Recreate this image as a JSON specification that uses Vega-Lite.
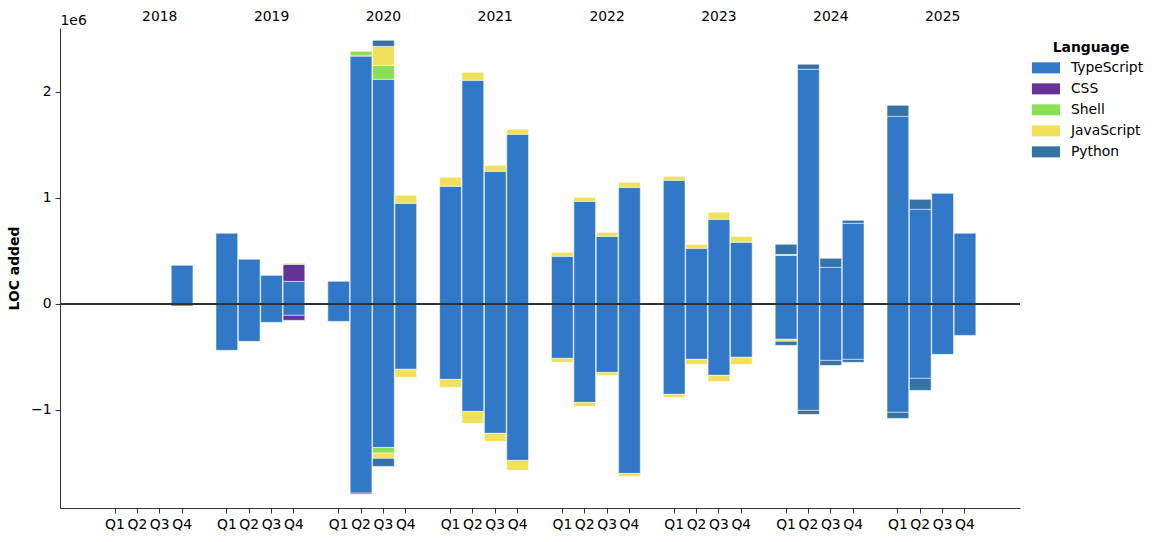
{
  "$schema": "https://vega.github.io/schema/vega-lite/v6.json",
  "width": 960,
  "height": 480,
  "autosize": {"type": "none"},
  "padding": {"left": 60, "top": 28, "right": 139, "bottom": 34},
  "background": "white",
  "config": {
    "view": {"stroke": null},
    "font": "DejaVu Sans",
    "axis": {
      "grid": false,
      "domainColor": "#000",
      "domainWidth": 0.8,
      "tickColor": "#000",
      "tickWidth": 0.8,
      "tickSize": 5,
      "labelColor": "#000",
      "labelFont": "DejaVu Sans",
      "labelFontSize": 13.9,
      "labelFontWeight": "normal",
      "labelPadding": 4,
      "titleFont": "DejaVu Sans",
      "titleColor": "#000"
    },
    "legend": {
      "labelFont": "DejaVu Sans",
      "titleFont": "DejaVu Sans"
    }
  },
  "data": {
    "values": [
      {"q": "2018 Q4", "lang": "TypeScript", "loc": 362000},
      {"q": "2018 Q4", "lang": "TypeScript", "loc": -22000},
      {"q": "2019 Q1", "lang": "TypeScript", "loc": 664000},
      {"q": "2019 Q1", "lang": "TypeScript", "loc": -440000},
      {"q": "2019 Q2", "lang": "TypeScript", "loc": 418000},
      {"q": "2019 Q2", "lang": "TypeScript", "loc": -355000},
      {"q": "2019 Q3", "lang": "TypeScript", "loc": 267000},
      {"q": "2019 Q3", "lang": "TypeScript", "loc": -176000},
      {"q": "2019 Q4", "lang": "TypeScript", "loc": 210000},
      {"q": "2019 Q4", "lang": "CSS", "loc": 161000},
      {"q": "2019 Q4", "lang": "Shell", "loc": 9000},
      {"q": "2019 Q4", "lang": "TypeScript", "loc": -110000},
      {"q": "2019 Q4", "lang": "CSS", "loc": -47000},
      {"q": "2020 Q1", "lang": "TypeScript", "loc": 211000},
      {"q": "2020 Q1", "lang": "TypeScript", "loc": -167000},
      {"q": "2020 Q2", "lang": "TypeScript", "loc": 2333000},
      {"q": "2020 Q2", "lang": "CSS", "loc": 9000},
      {"q": "2020 Q2", "lang": "Shell", "loc": 38000},
      {"q": "2020 Q2", "lang": "TypeScript", "loc": -1787000},
      {"q": "2020 Q2", "lang": "CSS", "loc": -9000},
      {"q": "2020 Q3", "lang": "TypeScript", "loc": 2116000},
      {"q": "2020 Q3", "lang": "Shell", "loc": 132000},
      {"q": "2020 Q3", "lang": "JavaScript", "loc": 179000},
      {"q": "2020 Q3", "lang": "Python", "loc": 57000},
      {"q": "2020 Q3", "lang": "TypeScript", "loc": -1356000},
      {"q": "2020 Q3", "lang": "Shell", "loc": -53000},
      {"q": "2020 Q3", "lang": "JavaScript", "loc": -50000},
      {"q": "2020 Q3", "lang": "Python", "loc": -76000},
      {"q": "2020 Q4", "lang": "TypeScript", "loc": 947000},
      {"q": "2020 Q4", "lang": "JavaScript", "loc": 75000},
      {"q": "2020 Q4", "lang": "TypeScript", "loc": -619000},
      {"q": "2020 Q4", "lang": "JavaScript", "loc": -76000},
      {"q": "2021 Q1", "lang": "TypeScript", "loc": 1107000},
      {"q": "2021 Q1", "lang": "JavaScript", "loc": 85000},
      {"q": "2021 Q1", "lang": "TypeScript", "loc": -714000},
      {"q": "2021 Q1", "lang": "JavaScript", "loc": -75000},
      {"q": "2021 Q2", "lang": "TypeScript", "loc": 2107000},
      {"q": "2021 Q2", "lang": "JavaScript", "loc": 75000},
      {"q": "2021 Q2", "lang": "TypeScript", "loc": -1016000},
      {"q": "2021 Q2", "lang": "JavaScript", "loc": -113000},
      {"q": "2021 Q3", "lang": "TypeScript", "loc": 1248000},
      {"q": "2021 Q3", "lang": "JavaScript", "loc": 57000},
      {"q": "2021 Q3", "lang": "TypeScript", "loc": -1223000},
      {"q": "2021 Q3", "lang": "JavaScript", "loc": -76000},
      {"q": "2021 Q4", "lang": "TypeScript", "loc": 1597000},
      {"q": "2021 Q4", "lang": "JavaScript", "loc": 48000},
      {"q": "2021 Q4", "lang": "TypeScript", "loc": -1478000},
      {"q": "2021 Q4", "lang": "JavaScript", "loc": -94000},
      {"q": "2022 Q1", "lang": "TypeScript", "loc": 447000},
      {"q": "2022 Q1", "lang": "JavaScript", "loc": 37000},
      {"q": "2022 Q1", "lang": "TypeScript", "loc": -516000},
      {"q": "2022 Q1", "lang": "JavaScript", "loc": -37000},
      {"q": "2022 Q2", "lang": "TypeScript", "loc": 965000},
      {"q": "2022 Q2", "lang": "JavaScript", "loc": 38000},
      {"q": "2022 Q2", "lang": "TypeScript", "loc": -931000},
      {"q": "2022 Q2", "lang": "JavaScript", "loc": -38000},
      {"q": "2022 Q3", "lang": "TypeScript", "loc": 635000},
      {"q": "2022 Q3", "lang": "JavaScript", "loc": 38000},
      {"q": "2022 Q3", "lang": "TypeScript", "loc": -648000},
      {"q": "2022 Q3", "lang": "JavaScript", "loc": -28000},
      {"q": "2022 Q4", "lang": "TypeScript", "loc": 1097000},
      {"q": "2022 Q4", "lang": "JavaScript", "loc": 48000},
      {"q": "2022 Q4", "lang": "TypeScript", "loc": -1601000},
      {"q": "2022 Q4", "lang": "JavaScript", "loc": -28000},
      {"q": "2023 Q1", "lang": "TypeScript", "loc": 1164000},
      {"q": "2023 Q1", "lang": "JavaScript", "loc": 37000},
      {"q": "2023 Q1", "lang": "TypeScript", "loc": -855000},
      {"q": "2023 Q1", "lang": "JavaScript", "loc": -29000},
      {"q": "2023 Q2", "lang": "TypeScript", "loc": 522000},
      {"q": "2023 Q2", "lang": "JavaScript", "loc": 38000},
      {"q": "2023 Q2", "lang": "TypeScript", "loc": -525000},
      {"q": "2023 Q2", "lang": "JavaScript", "loc": -47000},
      {"q": "2023 Q3", "lang": "TypeScript", "loc": 796000},
      {"q": "2023 Q3", "lang": "JavaScript", "loc": 66000},
      {"q": "2023 Q3", "lang": "TypeScript", "loc": -676000},
      {"q": "2023 Q3", "lang": "JavaScript", "loc": -57000},
      {"q": "2023 Q4", "lang": "TypeScript", "loc": 579000},
      {"q": "2023 Q4", "lang": "JavaScript", "loc": 56000},
      {"q": "2023 Q4", "lang": "TypeScript", "loc": -506000},
      {"q": "2023 Q4", "lang": "JavaScript", "loc": -66000},
      {"q": "2024 Q1", "lang": "TypeScript", "loc": 456000},
      {"q": "2024 Q1", "lang": "JavaScript", "loc": 9000},
      {"q": "2024 Q1", "lang": "Python", "loc": 95000},
      {"q": "2024 Q1", "lang": "TypeScript", "loc": -336000},
      {"q": "2024 Q1", "lang": "JavaScript", "loc": -19000},
      {"q": "2024 Q1", "lang": "Python", "loc": -38000},
      {"q": "2024 Q2", "lang": "TypeScript", "loc": 2211000},
      {"q": "2024 Q2", "lang": "Python", "loc": 47000},
      {"q": "2024 Q2", "lang": "TypeScript", "loc": -1006000},
      {"q": "2024 Q2", "lang": "Python", "loc": -38000},
      {"q": "2024 Q3", "lang": "TypeScript", "loc": 343000},
      {"q": "2024 Q3", "lang": "Python", "loc": 85000},
      {"q": "2024 Q3", "lang": "TypeScript", "loc": -535000},
      {"q": "2024 Q3", "lang": "Python", "loc": -47000},
      {"q": "2024 Q4", "lang": "TypeScript", "loc": 758000},
      {"q": "2024 Q4", "lang": "Python", "loc": 28000},
      {"q": "2024 Q4", "lang": "TypeScript", "loc": -525000},
      {"q": "2024 Q4", "lang": "Python", "loc": -28000},
      {"q": "2025 Q1", "lang": "TypeScript", "loc": 1767000},
      {"q": "2025 Q1", "lang": "Python", "loc": 104000},
      {"q": "2025 Q1", "lang": "TypeScript", "loc": -1025000},
      {"q": "2025 Q1", "lang": "Python", "loc": -57000},
      {"q": "2025 Q2", "lang": "TypeScript", "loc": 890000},
      {"q": "2025 Q2", "lang": "Python", "loc": 94000},
      {"q": "2025 Q2", "lang": "TypeScript", "loc": -704000},
      {"q": "2025 Q2", "lang": "Python", "loc": -114000},
      {"q": "2025 Q3", "lang": "TypeScript", "loc": 1041000},
      {"q": "2025 Q3", "lang": "TypeScript", "loc": -478000},
      {"q": "2025 Q4", "lang": "TypeScript", "loc": 664000},
      {"q": "2025 Q4", "lang": "TypeScript", "loc": -299000}
    ]
  },
  "transform": [
    {"calculate": "indexof(['TypeScript','CSS','Shell','JavaScript','Python'], datum.lang)", "as": "stackrank"}
  ],
  "layer": [
    {
      "mark": {"type": "bar", "stroke": "white", "strokeWidth": 0.5},
      "encoding": {
        "x": {
          "field": "q",
          "type": "nominal",
          "scale": {
            "domain": ["s0","2018 Q1","2018 Q2","2018 Q3","2018 Q4","g2018","2019 Q1","2019 Q2","2019 Q3","2019 Q4","g2019","2020 Q1","2020 Q2","2020 Q3","2020 Q4","g2020","2021 Q1","2021 Q2","2021 Q3","2021 Q4","g2021","2022 Q1","2022 Q2","2022 Q3","2022 Q4","g2022","2023 Q1","2023 Q2","2023 Q3","2023 Q4","g2023","2024 Q1","2024 Q2","2024 Q3","2024 Q4","g2024","2025 Q1","2025 Q2","2025 Q3","2025 Q4","s9"],
            "paddingInner": 0.03,
            "paddingOuter": 0.974
          },
          "axis": {
            "orient": "bottom",
            "title": null,
            "labelAngle": 0,
            "values": ["2018 Q1","2018 Q2","2018 Q3","2018 Q4","2019 Q1","2019 Q2","2019 Q3","2019 Q4","2020 Q1","2020 Q2","2020 Q3","2020 Q4","2021 Q1","2021 Q2","2021 Q3","2021 Q4","2022 Q1","2022 Q2","2022 Q3","2022 Q4","2023 Q1","2023 Q2","2023 Q3","2023 Q4","2024 Q1","2024 Q2","2024 Q3","2024 Q4","2025 Q1","2025 Q2","2025 Q3","2025 Q4"],
            "labelExpr": "slice(datum.value, 5)",
            "labelPadding": 4
          }
        },
        "y": {
          "field": "loc",
          "type": "quantitative",
          "stack": "zero",
          "scale": {"domain": [-1927000, 2600000], "nice": false, "zero": false},
          "axis": {
            "values": [-1000000, 0, 1000000, 2000000],
            "labelExpr": "datum.value < 0 ? '\u2212' + (-datum.value / 1000000) : '' + (datum.value / 1000000)",
            "title": "LOC added",
            "titleFontWeight": "bold",
            "titleFontSize": 13.9,
            "titlePadding": 9
          }
        },
        "color": {
          "field": "lang",
          "type": "nominal",
          "scale": {
            "domain": ["TypeScript", "CSS", "Shell", "JavaScript", "Python"],
            "range": ["#3178c6", "#663399", "#89e051", "#f1e05a", "#3572a5"]
          },
          "legend": {
            "title": "Language",
            "orient": "none",
            "legendX": 979,
            "legendY": 13,
            "titleFontSize": 13.9,
            "titleFontWeight": "bold",
            "titleColor": "#000",
            "titleAnchor": "middle",
            "titlePadding": 6,
            "labelFontSize": 13.9,
            "labelColor": "#000",
            "labelOffset": 18,
            "symbolType": "M-2.55,-1H2.55V1H-2.55Z",
            "symbolSize": 121,
            "symbolStrokeWidth": 0,
            "symbolOpacity": 1,
            "rowPadding": 6
          }
        },
        "order": {"field": "stackrank", "type": "quantitative", "sort": "ascending"}
      }
    },
    {
      "mark": {"type": "bar", "opacity": 0},
      "encoding": {
        "x": {
          "field": "q",
          "type": "nominal",
          "scale": {
            "domain": ["s0","2018 Q1","2018 Q2","2018 Q3","2018 Q4","g2018","2019 Q1","2019 Q2","2019 Q3","2019 Q4","g2019","2020 Q1","2020 Q2","2020 Q3","2020 Q4","g2020","2021 Q1","2021 Q2","2021 Q3","2021 Q4","g2021","2022 Q1","2022 Q2","2022 Q3","2022 Q4","g2022","2023 Q1","2023 Q2","2023 Q3","2023 Q4","g2023","2024 Q1","2024 Q2","2024 Q3","2024 Q4","g2024","2025 Q1","2025 Q2","2025 Q3","2025 Q4","s9"],
            "paddingInner": 0.03,
            "paddingOuter": 0.974
          },
          "axis": {
            "orient": "top",
            "title": "1e6",
            "titleX": 0,
            "titleY": -1,
            "titleAlign": "left",
            "titleAnchor": "start",
            "titleBaseline": "bottom",
            "titleAngle": 0,
            "titleFontWeight": "normal",
            "titleFontSize": 13.9,
            "labelAngle": 0,
            "labelFontWeight": "normal",
            "domain": false,
            "ticks": false,
            "tickSize": 0,
            "values": ["2018 Q3","2019 Q3","2020 Q3","2021 Q3","2022 Q3","2023 Q3","2024 Q3","2025 Q3"],
            "labelExpr": "slice(datum.value, 0, 4)",
            "labelPadding": 5
          }
        },
        "y": {
          "field": "loc",
          "type": "quantitative",
          "stack": "zero"
        }
      }
    },
    {
      "mark": {"type": "rule", "color": "#333333", "strokeWidth": 1},
      "encoding": {"y": {"datum": 0}}
    }
  ],
  "resolve": {"axis": {"x": "independent"}}
}
